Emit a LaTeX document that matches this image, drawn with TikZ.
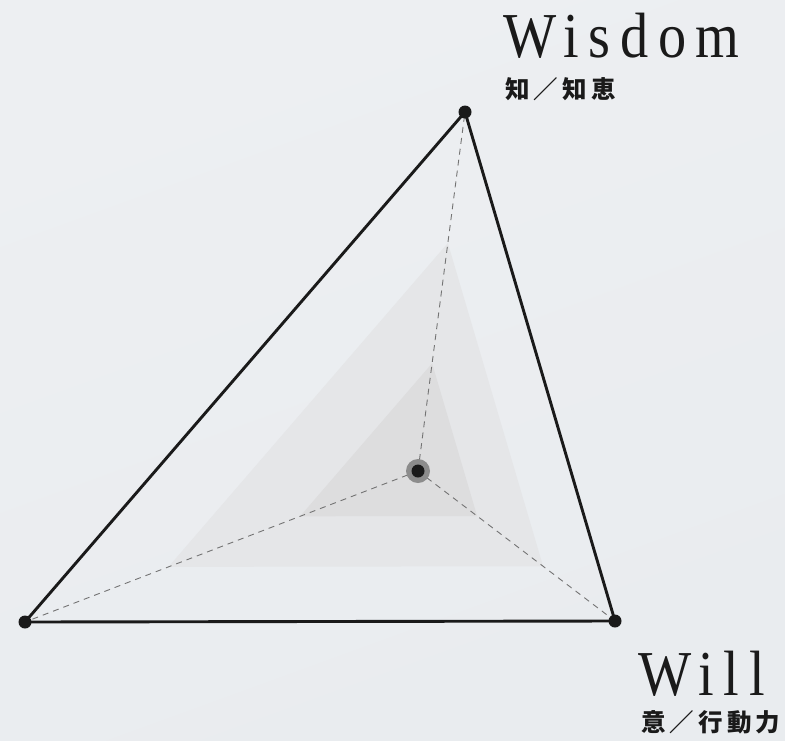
\documentclass[tikz,border=0pt]{standalone}
\usepackage{fontspec}
\setmainfont{Liberation Serif}
\newfontfamily\titlefont[LetterSpace=15,FakeStretch=0.88]{Liberation Serif}
\newfontfamily\jpfont[LetterSpace=17]{Noto Sans CJK JP}
\usetikzlibrary{positioning,calc}

\definecolor{bgtop}{HTML}{EDEFF2}
\definecolor{bgbottom}{HTML}{E9ECEF}
\definecolor{inkblack}{HTML}{1A1A1A}
\definecolor{levelone}{HTML}{E5E6E8}
\definecolor{leveltwo}{HTML}{DDDDDE}

\begin{document}
\begin{tikzpicture}[x=1pt,y=-1pt,
   edge/.style={draw=inkblack,line width=2.9pt,line join=round},
   spoke/.style={draw=black!55,line width=0.9pt,dash pattern=on 6pt off 5pt},
   vertex/.style={circle,fill=inkblack,inner sep=0pt,minimum size=13pt},
   title/.style={inner sep=0pt,font=\titlefont\fontsize{64}{64}\selectfont,text=inkblack},
   sublabel/.style={inner sep=0pt,font=\jpfont\bfseries\fontsize{24.5}{24.5}\selectfont,text=inkblack}]
  % background
  \fill[top color=bgtop,bottom color=bgbottom,shading angle=20] (0,0) rectangle (785,740);
  \useasboundingbox (0,0) rectangle (785,740);

  \coordinate (wis) at (465,112);
  \coordinate (lft) at (25,622);
  \coordinate (wil) at (615,621);
  \coordinate (ctr) at (418,471);

  % shaded levels
  \fill[levelone] ($(ctr)!0.635!(wis)$) -- ($(ctr)!0.635!(lft)$) -- ($(ctr)!0.635!(wil)$) -- cycle;
  \fill[leveltwo] ($(ctr)!0.3!(wis)$) -- ($(ctr)!0.3!(lft)$) -- ($(ctr)!0.3!(wil)$) -- cycle;

  \draw[spoke] (ctr) -- (wis);
  \draw[spoke] (ctr) -- (lft);
  \draw[spoke] (ctr) -- (wil);

  \draw[edge] (wis) -- (lft) -- (wil) -- cycle;
  \node[vertex] (v1) at (wis) {};
  \node[vertex] (v2) at (lft) {};
  \node[vertex] (v3) at (wil) {};
  \node[circle,fill=black!45,inner sep=0pt,minimum size=24pt] (mid) at (ctr) {};
  \node[vertex] at (mid) {};

  % labels
  \node[title,anchor=base west] (wisdom) at (503,57) {Wisdom};
  \node[sublabel,anchor=base west] (wisdomjp) at ($(wisdom.base west)+(2,41)$) {知／知恵};
  \node[title,anchor=base west] (will) at (638,695) {Will};
  \node[sublabel,anchor=base west] (willjp) at ($(will.base west)+(3,36)$) {意／行動力};
\end{tikzpicture}
\end{document}
